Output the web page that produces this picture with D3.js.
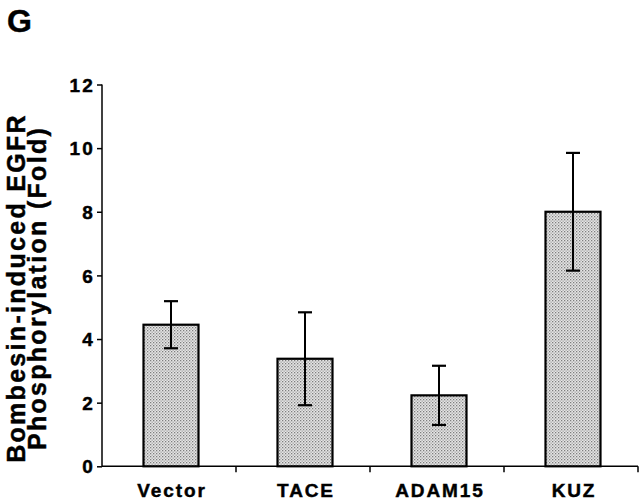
<!DOCTYPE html>
<html><head><meta charset="utf-8">
<script src="https://cdn.jsdelivr.net/npm/d3@7"></script>
<style>body{margin:0;background:#fff}svg{display:block}text{font-family:"Liberation Sans",Arial,sans-serif;font-weight:bold;stroke:#000;stroke-width:0.45px}</style>
</head><body><svg id="c" width="640" height="500"></svg>
<script>
const categories = ["Vector", "TACE", "ADAM15", "KUZ"];
const values = [4.45, 3.38, 2.23, 8.0];
const errors = [0.74, 1.46, 0.93, 1.85];
const yTicks = [0, 2, 4, 6, 8, 10, 12];

const svg = d3.select("#c");
const m = {l: 102, r: 638, t: 84.5, b: 466.3};
const x = d3.scaleBand().domain(categories).range([m.l, m.r]).paddingInner(0).paddingOuter(0);
const y = d3.scaleLinear().domain([0, 12]).range([m.b, m.t]);
const cx = d => x(d) + x.bandwidth() / 2 + 2;

const defs = svg.append("defs");
const pat = defs.append("pattern").attr("id", "dots").attr("width", 3).attr("height", 3).attr("patternUnits", "userSpaceOnUse");
pat.append("rect").attr("width", 3).attr("height", 3).attr("fill", "#e6e6e6");
pat.append("rect").attr("x", 0).attr("y", 0).attr("width", 1.3).attr("height", 1.3).attr("fill", "#7e7e7e");
pat.append("rect").attr("x", 1.5).attr("y", 1.5).attr("width", 1.3).attr("height", 1.3).attr("fill", "#a0a0a0");

svg.append("text").attr("x", 7).attr("y", 32).attr("font-size", 32).text("G");

// y axis
const ya = svg.append("g").attr("transform", `translate(${m.l},0)`)
  .call(d3.axisLeft(y).tickValues(yTicks).tickSize(5).tickPadding(4).tickFormat(d => String(d)));
ya.select(".domain").attr("stroke", "#000").attr("stroke-width", 1.5).attr("d", `M0,${m.t}V${m.b}`);
ya.selectAll(".tick line").attr("stroke", "#000").attr("stroke-width", 1.5);
ya.selectAll(".tick text").attr("font-size", 19).attr("fill", "#000").attr("letter-spacing", 2.2)
  .attr("dx", 2).attr("dy", "0.35em")
  .attr("font-family", "Liberation Sans, Arial, sans-serif").attr("font-weight", "bold");

// x axis
const xa = svg.append("g").attr("transform", `translate(0,${m.b})`);
xa.append("line").attr("x1", m.l).attr("x2", m.r).attr("stroke", "#000").attr("stroke-width", 1.5);
xa.selectAll("line.tk").data(categories).join("line").attr("class", "tk")
  .attr("x1", d => x(d) + x.bandwidth()).attr("x2", d => x(d) + x.bandwidth())
  .attr("y1", 0).attr("y2", 6).attr("stroke", "#000").attr("stroke-width", 1.5);
xa.selectAll("text").data(categories).join("text")
  .attr("x", d => cx(d) + 1).attr("y", 31)
  .attr("text-anchor", "middle").attr("font-size", 19).attr("letter-spacing", 1.9).text(d => d);

// bars
const bw = 55;
svg.selectAll("rect.bar").data(categories).join("rect").attr("class", "bar")
  .attr("x", d => cx(d) - bw / 2)
  .attr("y", (d, i) => y(values[i]))
  .attr("width", bw)
  .attr("height", (d, i) => y(0) - y(values[i]))
  .attr("fill", "url(#dots)").attr("stroke", "#000").attr("stroke-width", 2.2);

// error bars
const eg = svg.selectAll("g.err").data(categories).join("g").attr("class", "err");
eg.append("line").attr("x1", cx).attr("x2", cx)
  .attr("y1", (d, i) => y(values[i] + errors[i])).attr("y2", (d, i) => y(values[i] - errors[i]))
  .attr("stroke", "#000").attr("stroke-width", 2);
[1, -1].forEach(s => {
  eg.append("line").attr("x1", d => cx(d) - 7).attr("x2", d => cx(d) + 7)
    .attr("y1", (d, i) => y(values[i] + s * errors[i])).attr("y2", (d, i) => y(values[i] + s * errors[i]))
    .attr("stroke", "#000").attr("stroke-width", 2.2);
});

// y title
const yt = svg.append("text").attr("transform", "translate(0,288) rotate(-90)").attr("text-anchor", "middle")
  .attr("font-size", 25).attr("letter-spacing", 2.3);
yt.append("tspan").attr("x", 0).attr("y", 25).text("Bombesin-induced EGFR");
yt.append("tspan").attr("x", 0).attr("y", 46).text("Phosphorylation (Fold)");
</script></body></html>
